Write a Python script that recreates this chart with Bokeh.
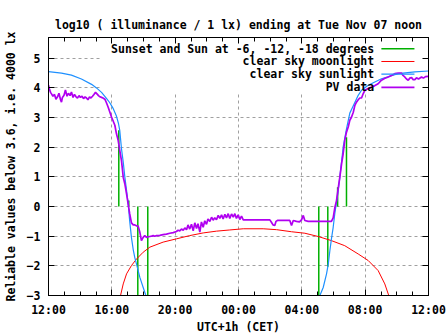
from bokeh.plotting import figure
from bokeh.models import Range1d, FixedTicker, LinearAxis, Label, Arrow, BoxAnnotation
from bokeh.embed import file_html
from bokeh.resources import INLINE

# ---------------- data (hours after 12:00 on Nov 06, log10 lux) ----------------
tick_hours = [0, 4, 8, 12, 16, 20, 24]
tick_labels = ["12:00", "16:00", "20:00", "00:00", "04:00", "08:00", "12:00"]
y_ticks = [-3, -2, -1, 0, 1, 2, 3, 4, 5]

# Sunset / Sun at -6, -12, -18 degrees (vertical markers from 0 to value)
green_t = [4.44, 5.07, 5.64, 6.27, 17.07, 17.64, 18.26, 18.82]
green_top = [2.57, 0.20, -3.0, -3.0, -3.0, -2.03, 0.65, 2.34]

# clear sky moonlight
moon_t = [4.45, 4.55, 4.72, 4.93, 5.24, 5.56, 5.98, 6.40, 7.24, 8.08, 8.92, 9.77,
          10.61, 11.45, 12.30, 13.56, 14.40, 15.35, 16.19, 17.03, 17.87, 18.71,
          19.56, 20.19, 20.82, 21.24, 21.49, 21.60]
moon_v = [-3.40, -3.00, -2.61, -2.27, -1.99, -1.77, -1.54, -1.37, -1.20, -1.09, -0.98, -0.89,
          -0.83, -0.79, -0.75, -0.75, -0.78, -0.85, -0.90, -1.01, -1.15, -1.32,
          -1.60, -1.82, -2.16, -2.61, -3.00, -3.40]

# clear sky sunlight (evening part, then morning part)
sun_eve_t = [0.00, 0.82, 1.45, 2.08, 2.72, 3.03, 3.35, 3.66, 3.87, 4.09, 4.29, 4.42, 4.50,
             4.61, 4.72, 4.82, 4.93, 5.03, 5.13, 5.24, 5.35, 5.45, 5.56, 5.77, 5.98, 6.15, 6.32]
sun_eve_v = [4.55, 4.50, 4.43, 4.30, 4.12, 4.00, 3.85, 3.65, 3.50, 3.30, 3.05, 2.80, 2.57,
             1.95, 1.50, 1.00, 0.55, 0.10, -0.50, -1.05, -1.45, -1.72, -1.94, -2.39, -2.73, -3.00, -3.30]
sun_mor_t = [16.93, 17.14, 17.35, 17.56, 17.67, 17.77, 17.87, 17.98, 18.08, 18.19, 18.30, 18.40,
             18.61, 18.71, 18.82, 19.03, 19.25, 19.56, 19.77, 20.19, 21.03, 22.09, 23.14, 24.00]
sun_mor_v = [-3.30, -3.00, -2.73, -2.27, -1.94, -1.49, -1.09, -0.70, -0.25, 0.15, 0.54, 0.99,
             2.00, 2.30, 2.62, 3.15, 3.40, 3.75, 3.92, 4.09, 4.31, 4.48, 4.54, 4.57]

# PV data
pv_t = [0.00, 0.06, 0.13, 0.19, 0.28, 0.38, 0.47, 0.57, 0.66, 0.76, 0.82, 0.88, 0.98, 1.07,
        1.17, 1.26, 1.36, 1.45, 1.55, 1.64, 1.74, 1.83, 1.93, 2.02, 2.12, 2.21, 2.31, 2.40,
        2.49, 2.59, 2.68, 2.78, 2.87, 2.97, 3.06, 3.16, 3.25, 3.35, 3.44, 3.56, 3.66, 3.77,
        3.85, 3.98, 4.07, 4.19, 4.29, 4.40, 4.50, 4.61, 4.72, 4.82, 4.93, 5.03, 5.13, 5.24,
        5.35, 5.45, 5.56, 5.66, 5.77, 5.87, 5.98, 6.08, 6.19, 6.30, 6.40, 6.51, 6.61, 6.71,
        6.82, 7.03, 7.24, 7.45, 7.66, 7.88, 8.08, 8.18, 8.29, 8.40, 8.51, 8.61, 8.72, 8.81,
        8.92, 9.03, 9.14, 9.24, 9.35, 9.44, 9.56, 9.66, 9.77, 9.87, 9.98, 10.07, 10.19, 10.30,
        10.40, 10.50, 10.61, 10.72, 10.82, 10.93, 11.03, 11.14, 11.24, 11.35, 11.45, 11.56,
        11.67, 11.77, 11.87, 11.98, 12.08, 12.19, 12.30, 12.51, 12.82, 13.14, 13.56, 13.98,
        14.08, 14.18, 14.29, 14.37, 14.46, 14.72, 15.03, 15.24, 15.35, 15.46, 15.66, 15.85,
        15.98, 16.09, 16.19, 16.40, 16.61, 17.03, 17.45, 17.87, 17.98, 18.08, 18.19, 18.30,
        18.40, 18.51, 18.61, 18.71, 18.82, 18.93, 19.03, 19.14, 19.25, 19.35, 19.45, 19.56,
        19.66, 19.77, 19.88, 19.98, 20.19, 20.40, 20.59, 20.82, 21.03, 21.22, 21.46, 21.66,
        21.87, 22.09, 22.30, 22.39, 22.50, 22.61, 22.72, 22.82, 22.93, 23.03, 23.14, 23.24,
        23.37, 23.56, 23.68, 23.81, 23.98]
pv_v = [4.09, 3.95, 3.85, 3.80, 3.72, 3.78, 3.62, 3.70, 3.82, 3.60, 3.52, 3.68, 3.75, 3.93,
        3.72, 3.82, 3.74, 3.86, 3.68, 3.78, 3.70, 3.66, 3.74, 3.68, 3.72, 3.64, 3.70, 3.66,
        3.60, 3.70, 3.66, 3.72, 3.78, 3.85, 3.80, 3.74, 3.70, 3.68, 3.66, 3.62, 3.50, 3.35,
        3.22, 3.02, 2.90, 2.74, 2.46, 2.23, 1.89, 1.55, 0.99, 0.77, 0.43, 0.09, -0.25, -0.55,
        -0.62, -0.62, -0.65, -0.66, -0.87, -1.15, -1.04, -0.98, -1.04, -1.02, -1.01, -1.00, -0.98, -1.00,
        -0.98, -0.97, -0.95, -0.93, -0.90, -0.88, -0.84, -0.80, -0.82, -0.76, -0.80, -0.72, -0.78, -0.62,
        -0.76, -0.60, -0.82, -0.55, -0.74, -0.58, -0.86, -0.52, -0.70, -0.48, -0.60, -0.42, -0.50, -0.36,
        -0.46, -0.38, -0.44, -0.30, -0.40, -0.28, -0.42, -0.26, -0.38, -0.24, -0.40, -0.25,
        -0.36, -0.24, -0.40, -0.28, -0.44, -0.32, -0.45, -0.45, -0.45, -0.45, -0.45, -0.45,
        -0.53, -0.62, -0.64, -0.50, -0.47, -0.47, -0.47, -0.47, -0.64, -0.47, -0.50, -0.52,
        -0.45, -0.30, -0.47, -0.50, -0.50, -0.50, -0.50, -0.50, -0.38, -0.05, 0.20, 0.62,
        0.99, 1.44, 1.78, 2.23, 2.51, 2.68, 2.91, 3.02, 3.18, 3.41, 3.52, 3.60,
        3.66, 3.66, 3.81, 3.92, 3.98, 4.03, 4.07, 4.14, 4.26, 4.32, 4.37, 4.42,
        4.48, 4.50, 4.50, 4.42, 4.37, 4.30, 4.26, 4.33, 4.35, 4.28, 4.28, 4.34,
        4.30, 4.37, 4.33, 4.38, 4.39]

legend_labels = ["Sunset and Sun at -6, -12, -18 degrees", "clear sky moonlight",
                 "clear sky sunlight", "PV data"]

title_text = "log10 ( illuminance / 1 lx) ending at Tue Nov 07 noon"
ylabel = "Reliable values below 3.6, i.e. 4000 lx"
xlabel = "UTC+1h (CET)"

# ---------------- styling ----------------
FONT = "DejaVu Sans Mono"
FS = "11.5px"
C_GREEN = "#00b000"
C_RED = "#ff0000"
C_BLUE = "#1e90ff"
C_PURPLE = "#b000f0"
colors = [C_GREEN, C_RED, C_BLUE, C_PURPLE]
widths = [1.5, 1.0, 1.2, 1.7]

X0, X1 = 0, 24
Y0, Y1 = -3, 5.7

p = figure(frame_width=380, frame_height=258, output_backend="svg", toolbar_location=None,
           x_range=Range1d(X0, X1), y_range=Range1d(Y0, Y1),
           min_border_left=47, min_border_right=20, min_border_top=37, min_border_bottom=40,
           background_fill_color="white", border_fill_color="white")

p.title.text = title_text
p.title.align = "center"
p.title.text_font = FONT
p.title.text_font_size = FS
p.title.text_font_style = "bold"
p.title.text_color = "black"
p.title.standoff = 12

p.outline_line_color = "black"
p.outline_line_alpha = 1
p.outline_line_width = 1

xticker = FixedTicker(ticks=tick_hours, minor_ticks=list(range(0, 25)))
yticker = FixedTicker(ticks=y_ticks, minor_ticks=[])

for ax in p.xaxis:
    ax.ticker = xticker
    ax.major_label_overrides = {float(h): lab for h, lab in zip(tick_hours, tick_labels)}
    ax.axis_label = xlabel
for ax in p.yaxis:
    ax.ticker = yticker
    ax.axis_label = ylabel

for ax in list(p.xaxis) + list(p.yaxis):
    ax.major_tick_in = 6
    ax.major_tick_out = 0
    ax.minor_tick_in = 4
    ax.minor_tick_out = 0
    ax.axis_line_color = "black"
    ax.major_tick_line_color = "black"
    ax.minor_tick_line_color = "black"
    ax.major_label_text_font = FONT
    ax.major_label_text_font_size = FS
    ax.major_label_text_font_style = "bold"
    ax.major_label_text_color = "black"
    ax.axis_label_text_font = FONT
    ax.axis_label_text_font_size = FS
    ax.axis_label_text_font_style = "bold"
    ax.axis_label_text_color = "black"

p.xaxis.major_label_standoff = 7
p.xaxis.axis_label_standoff = 0
p.yaxis.major_label_standoff = 8
p.yaxis.axis_label_standoff = 6

# mirrored ticks on top and right (no labels)
top_ax = LinearAxis(ticker=xticker, major_label_text_color=None, axis_line_color="black",
                    major_tick_in=6, major_tick_out=0, minor_tick_in=4, minor_tick_out=0,
                    major_label_standoff=0)
right_ax = LinearAxis(ticker=yticker, major_label_text_color=None, axis_line_color="black",
                      major_tick_in=6, major_tick_out=0, minor_tick_in=4, minor_tick_out=0,
                      major_label_standoff=0)
p.add_layout(top_ax, "above")
p.add_layout(right_ax, "right")

# grid
p.xgrid.ticker = FixedTicker(ticks=[h for h in tick_hours if X0 < h < X1])
p.ygrid.ticker = FixedTicker(ticks=[v for v in y_ticks if Y0 < v < Y1])
for g in (p.xgrid, p.ygrid):
    g.grid_line_color = "#a0a0a0"
    g.grid_line_dash = "3 3"
    g.grid_line_width = 1

# key area blanks the grid (frame-relative layout)
def fx(f):
    return X0 + f * (X1 - X0)

def fy(f):  # fraction from top of frame
    return Y1 - f * (Y1 - Y0)

key_box = BoxAnnotation(left=fx(0.139), right=fx(1.0), top=fy(0.0), bottom=fy(0.213),
                        fill_color="white", fill_alpha=1.0, line_color=None, level="underlay")
p.add_layout(key_box)

# ---------------- data marks ----------------
p.segment(x0=green_t, y0=[0] * len(green_t), x1=green_t, y1=green_top,
          line_color=C_GREEN, line_width=widths[0])
p.line(moon_t, moon_v, line_color=C_RED, line_width=widths[1])
p.line(sun_eve_t, sun_eve_v, line_color=C_BLUE, line_width=widths[2])
p.line(sun_mor_t, sun_mor_v, line_color=C_BLUE, line_width=widths[2])
p.line(pv_t, pv_v, line_color=C_PURPLE, line_width=widths[3])

# ---------------- key (gnuplot style: right aligned text, sample on the right) ----------------
row_fracs = [0.044, 0.093, 0.142, 0.193]
for lab, col, w, rf in zip(legend_labels, colors, widths, row_fracs):
    p.add_layout(Label(x=fx(0.857), y=fy(rf), text=lab, text_align="right",
                       text_baseline="middle", text_font=FONT, text_font_size=FS,
                       text_font_style="bold", text_color="black"))
    p.add_layout(Arrow(end=None, x_start=fx(0.876), y_start=fy(rf), x_end=fx(0.963), y_end=fy(rf),
                       line_color=col, line_width=w))

open("out.html", "w").write(file_html(p, INLINE))
